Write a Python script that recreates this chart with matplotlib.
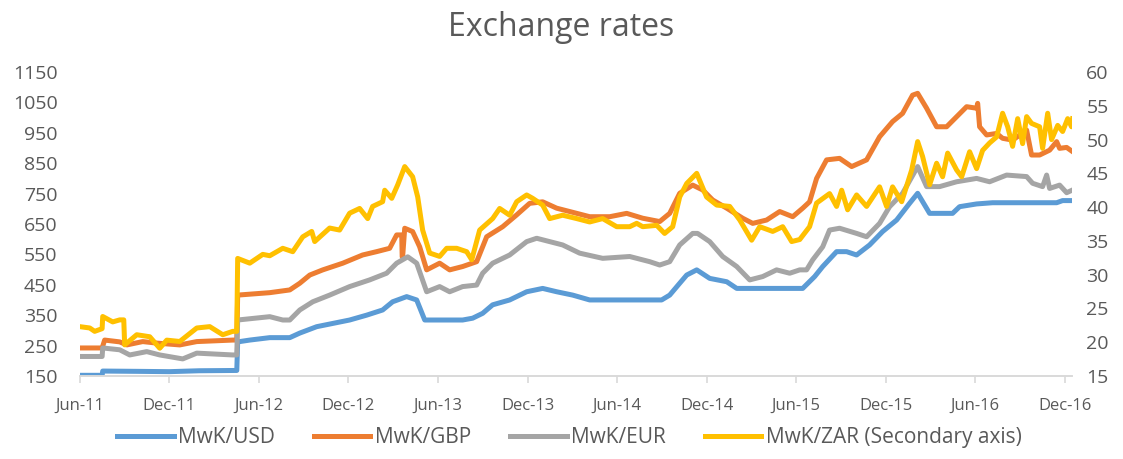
import matplotlib
matplotlib.use("Agg")
from matplotlib import pyplot as plt

# x values are months since 1 Jun 2011
tick_labels = ["Jun-11", "Dec-11", "Jun-12", "Dec-12", "Jun-13", "Dec-13",
               "Jun-14", "Dec-14", "Jun-15", "Dec-15", "Jun-16", "Dec-16"]
tick_months = [0, 6, 12, 18, 24, 30, 36, 42, 48, 54, 60, 66]

usd_m = [0, 1.50, 1.54, 4, 6, 8, 10.52, 10.58, 11.39, 12.73, 14.07, 14.74, 15.87, 18.08, 19.22,
         20.29, 20.96, 21.90, 22.57, 23.11, 24.31, 25.65, 26.32, 26.99, 27.66, 28.80, 29.94,
         31.01, 31.95, 33.02, 34.16, 38.98, 39.52, 40.19, 40.66, 41.33, 42.20, 43.34, 44.01,
         48.43, 49.23, 49.77, 50.70, 51.37, 52.04, 52.91, 53.78, 54.72, 55.59, 56.13, 56.93,
         58.47, 58.94, 60.08, 61.15, 65.44, 65.84, 66.51]
usd_v = [152, 152, 166, 165, 164, 167, 168, 262, 268, 276, 276, 291, 312, 334, 350,
         367, 394, 411, 400, 334, 334, 334, 340, 356, 384, 400, 427,
         438, 427, 416, 400, 400, 416, 455, 482, 499, 471, 460, 438,
         438, 477, 510, 559, 559, 548, 581, 625, 663, 718, 751, 685,
         685, 707, 716, 720, 720, 727, 727]

gbp_m = [0, 1.50, 1.67, 2.68, 3.15, 4.22, 5.16, 6.70, 7.84, 10.25, 10.52, 10.58, 12.73, 14.07,
         14.74, 15.41, 16.28, 17.62, 18.95, 19.89, 20.76, 21.23, 21.57, 21.60, 21.63, 21.77,
         22.30, 22.77, 23.24, 24.11, 24.78, 25.65, 26.59, 27.26, 28.33, 29.27, 30.14, 31.01,
         31.95, 32.82, 34.16, 35.50, 36.64, 37.71, 38.85, 39.52, 40.19, 41.06, 41.73, 42.40,
         43.34, 44.41, 45.08, 46.01, 46.89, 47.76, 48.43, 48.89, 49.36, 50.03, 50.90, 51.71,
         52.71, 53.58, 54.45, 55.12, 55.79, 56.13, 56.73, 57.40, 58.07, 58.74, 59.41, 60.08,
         60.15, 60.28, 60.75, 61.42, 61.82, 62.49, 63.43, 63.76, 64.30, 64.97, 65.44, 65.64,
         66.11, 66.51]
gbp_v = [242, 242, 268, 262, 252, 263, 258, 252, 263, 268, 268, 416, 424, 433,
         455, 482, 499, 521, 548, 559, 570, 614, 614, 542, 542, 636,
         625, 575, 499, 521, 499, 510, 526, 608, 641, 680, 718, 723,
         702, 691, 674, 674, 685, 669, 658, 685, 751, 778, 762, 729,
         702, 669, 652, 663, 691, 674, 702, 723, 800, 861, 866, 839,
         861, 937, 987, 1014, 1074, 1080, 1031, 970, 970, 1003, 1036, 1031,
         1047, 970, 943, 948, 932, 926, 959, 877, 877, 893, 921, 899,
         902, 888]

eur_m = [0, 1.50, 1.54, 2.68, 3.35, 4.49, 5.36, 6.90, 7.84, 10.25, 10.52, 10.58, 12.73, 13.60,
         14.07, 14.74, 15.61, 16.74, 18.08, 19.42, 20.56, 21.23, 21.97, 22.57, 23.24, 24.11,
         24.78, 25.65, 26.59, 26.99, 27.66, 28.80, 29.94, 30.61, 31.48, 32.35, 33.49, 35.03,
         36.84, 38.18, 38.85, 39.52, 40.19, 41.06, 41.39, 42.20, 43.07, 44.01, 44.88, 45.75,
         46.68, 47.56, 48.23, 48.69, 49.10, 49.77, 50.23, 50.90, 52.04, 52.71, 53.58, 54.25,
         55.12, 56.13, 56.73, 57.60, 58.74, 60.08, 60.95, 62.09, 63.43, 63.83, 64.50, 64.77,
         64.97, 65.64, 66.11, 66.51]
eur_v = [214, 214, 242, 236, 219, 230, 219, 206, 225, 219, 219, 334, 345, 334,
         334, 367, 394, 416, 444, 466, 488, 521, 542, 521, 427, 444,
         427, 444, 449, 488, 521, 548, 592, 603, 592, 581, 554, 537,
         543, 526, 515, 526, 581, 619, 619, 592, 543, 510, 466, 477,
         499, 488, 499, 499, 532, 575, 630, 636, 619, 608, 652, 707,
         751, 839, 773, 773, 789, 800, 789, 811, 806, 784, 773, 811,
         767, 778, 753, 762]

# MwK/ZAR, secondary axis
zar_m = [0, 0.67, 1.0, 1.50, 1.54, 2.21, 2.68, 2.95, 3.01, 3.82, 4.69, 5.36, 5.83, 6.70, 7.84,
         8.71, 9.58, 10.25, 10.52, 10.58, 11.39, 12.26, 12.73, 13.60, 14.27, 14.94, 15.54,
         15.74, 16.74, 17.41, 18.08, 18.75, 19.29, 19.62, 20.29, 20.43, 20.90, 21.30, 21.77,
         22.30, 22.64, 22.97, 23.44, 24.11, 24.58, 25.25, 25.92, 26.26, 26.79, 27.66, 28.13,
         28.80, 29.27, 29.94, 30.34, 31.01, 31.48, 32.35, 33.29, 34.16, 35.03, 35.97, 36.84,
         37.31, 37.71, 38.65, 39.18, 39.72, 40.19, 40.66, 41.33, 41.99, 42.67, 43.54, 44.21,
         45.01, 45.55, 46.42, 47.09, 47.69, 48.23, 48.89, 49.36, 50.23, 50.70, 51.04, 51.44,
         52.04, 52.71, 53.58, 54.05, 54.45, 55.06, 55.73, 56.13, 56.46, 56.93, 57.40, 57.80,
         58.14, 58.74, 59.08, 59.61, 60.08, 60.48, 60.95, 61.42, 61.82, 62.16, 62.49, 62.83,
         63.16, 63.43, 63.76, 64.30, 64.50, 64.84, 65.10, 65.51, 65.84, 66.18, 66.44, 66.51]
zar_v = [22.3, 22.1, 21.6, 22.0, 23.8, 23.0, 23.3, 23.3, 19.6, 21.1, 20.8, 19.1, 20.3, 20.1, 22.1,
         22.3, 21.1, 21.6, 21.6, 32.4, 31.7, 33.0, 32.8, 33.9, 33.4, 35.6, 36.4,
         34.9, 36.9, 36.6, 39.1, 39.8, 38.3, 40.1, 40.8, 42.5, 41.3, 43.3, 46.0,
         44.5, 41.5, 36.6, 33.2, 32.7, 33.9, 33.9, 33.4, 32.2, 36.6, 38.3, 39.8,
         38.8, 40.8, 41.8, 41.3, 40.3, 38.3, 38.8, 38.3, 37.8, 38.3, 37.1, 37.1,
         37.6, 37.1, 37.3, 36.1, 37.1, 41.5, 43.5, 45.0, 41.5, 40.3, 40.1, 38.1,
         35.1, 37.1, 36.4, 37.1, 34.9, 35.2, 37.1, 40.6, 42.0, 40.1, 42.5, 39.6,
         41.8, 40.1, 43.0, 40.1, 43.0, 40.8, 45.5, 49.7, 47.5, 43.3, 46.5, 44.5,
         48.0, 45.5, 44.5, 48.2, 45.7, 48.4, 49.5, 50.4, 53.9, 51.9, 49.0, 53.1,
         49.4, 53.4, 52.4, 51.9, 48.7, 53.9, 50.0, 52.1, 51.2, 53.1, 51.9, 53.1]

plt.rcParams['font.family'] = ['Open Sans', 'DejaVu Sans']
txt = '#595959'

fig = plt.figure(figsize=(11.23, 4.59), dpi=100)
ax = fig.add_axes([0.071, 0.181, 0.884, 0.662])
ax2 = ax.twinx()

lw = 3.6
l1, = ax.plot(usd_m, usd_v, color='#5B9BD5', lw=lw, solid_joinstyle='round', label='MwK/USD')
l2, = ax.plot(gbp_m, gbp_v, color='#ED7D31', lw=lw, solid_joinstyle='round', label='MwK/GBP')
l3, = ax.plot(eur_m, eur_v, color='#A5A5A5', lw=lw, solid_joinstyle='round', label='MwK/EUR')
l4, = ax2.plot(zar_m, zar_v, color='#FFC000', lw=lw, solid_joinstyle='round',
               label='MwK/ZAR (Secondary axis)')

ax.set_xlim(0, 66.5)
ax.set_ylim(150, 1150)
ax2.set_ylim(15, 60)
ax.set_yticks(range(150, 1151, 100))
ax2.set_yticks(range(15, 61, 5))
ax.set_xticks(tick_months)
ax.set_xticklabels(tick_labels)

for a in (ax, ax2):
    for s in ('top', 'left', 'right'):
        a.spines[s].set_visible(False)
    a.spines['bottom'].set_color('#D9D9D9')
    a.spines['bottom'].set_linewidth(1.2)

ax.tick_params(axis='y', length=0, pad=16, labelsize=14, labelcolor=txt)
ax2.tick_params(axis='y', length=0, pad=10, labelsize=14, labelcolor=txt)
ax.tick_params(axis='x', length=5, width=1.2, color='#D9D9D9', pad=11,
               labelsize=12, labelcolor=txt)

fig.text(0.5, 0.94, 'Exchange rates', ha='center', va='center', fontsize=23, color=txt)

fig.legend(handles=[l1, l2, l3, l4], loc='center', bbox_to_anchor=(0.507, 0.046),
           ncol=4, frameon=False, fontsize=15, handlelength=2.7, handletextpad=0.2,
           columnspacing=1.9, labelcolor=txt)

fig.savefig('out.png', dpi=100)
